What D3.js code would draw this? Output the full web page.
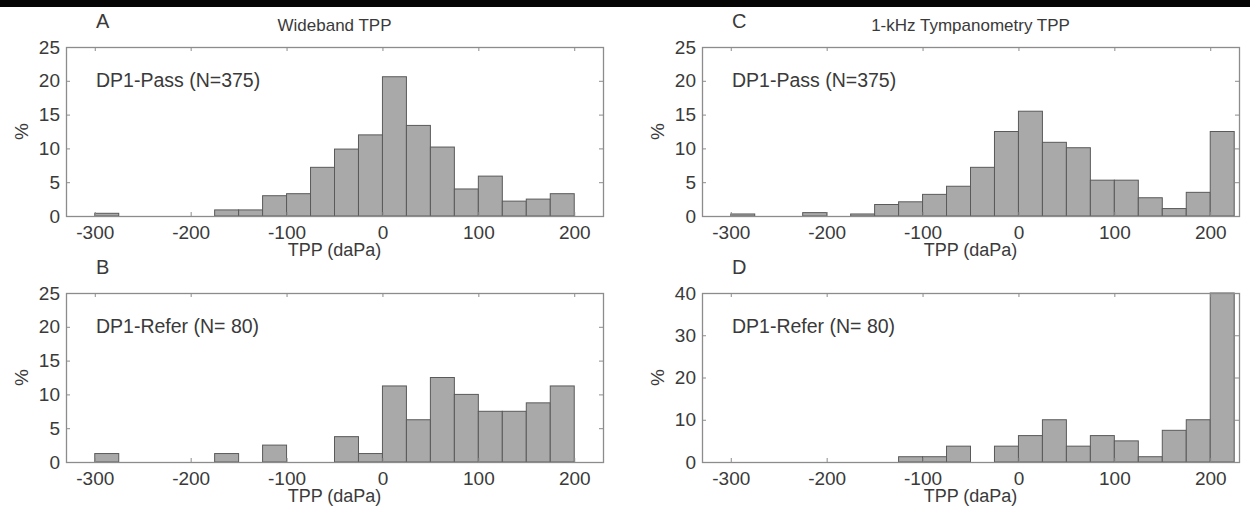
<!DOCTYPE html>
<html>
<head>
<meta charset="utf-8">
<script src="https://cdn.jsdelivr.net/npm/d3@7"></script>
<style>
  html, body { margin: 0; padding: 0; background: #fff; }
  svg { display: block; }
  text { font-family: "Liberation Sans", Arial, sans-serif; fill: #3a3a3a; }
</style>
</head>
<body>
<svg id="fig" width="1250" height="516"></svg>
<script>
// Histogram bin width (daPa); every bin is [start, start + BIN_WIDTH)
const BIN_WIDTH = 25;

// A: wideband TPP, DP1-Pass
const wbPassBins = [-300, -175, -150, -125, -100, -75, -50, -25, 0, 25, 50, 75, 100, 125, 150, 175];
const wbPassPct  = [0.4, 0.9, 0.9, 3.0, 3.3, 7.2, 9.9, 12.0, 20.6, 13.4, 10.2, 4.0, 5.9, 2.2, 2.5, 3.3];

// B: wideband TPP, DP1-Refer
const wbReferBins = [-300, -175, -125, -50, -25, 0, 25, 50, 75, 100, 125, 150, 175];
const wbReferPct  = [1.25, 1.25, 2.5, 3.75, 1.25, 11.25, 6.25, 12.5, 10, 7.5, 7.5, 8.75, 11.25];

// C: 1-kHz tympanometry TPP, DP1-Pass
const tyPassBins = [-300, -225, -175, -150, -125, -100, -75, -50, -25, 0, 25, 50, 75, 100, 125, 150, 175, 200];
const tyPassPct  = [0.3, 0.5, 0.3, 1.7, 2.1, 3.2, 4.4, 7.2, 12.5, 15.5, 10.9, 10.1, 5.3, 5.3, 2.7, 1.1, 3.5, 12.5];

// D: 1-kHz tympanometry TPP, DP1-Refer
const tyReferBins = [-125, -100, -75, -25, 0, 25, 50, 75, 100, 125, 150, 175, 200];
const tyReferPct  = [1.25, 1.25, 3.75, 3.75, 6.25, 10, 3.75, 6.25, 5, 1.25, 7.5, 10, 40];

// Axis ticks
const xTicks = [-300, -200, -100, 0, 100, 200];
const yTicks25 = [0, 5, 10, 15, 20, 25];
const yTicks40 = [0, 10, 20, 30, 40];

// Text
const panelLetters = ["A", "B", "C", "D"];
const columnTitles = ["Wideband TPP", "1-kHz Tympanometry TPP"];
const groupLabels = ["DP1-Pass (N=375)", "DP1-Refer (N= 80)"];
const xLabel = "TPP (daPa)";
const yLabel = "%";

const panels = [
  { letter: panelLetters[0], title: columnTitles[0], group: groupLabels[0], bins: wbPassBins,  pct: wbPassPct,  yMax: 25, yTicks: yTicks25, left: 66,  top: 47 },
  { letter: panelLetters[1], title: null,            group: groupLabels[1], bins: wbReferBins, pct: wbReferPct, yMax: 25, yTicks: yTicks25, left: 66,  top: 293 },
  { letter: panelLetters[2], title: columnTitles[1], group: groupLabels[0], bins: tyPassBins,  pct: tyPassPct,  yMax: 25, yTicks: yTicks25, left: 702, top: 47 },
  { letter: panelLetters[3], title: null,            group: groupLabels[1], bins: tyReferBins, pct: tyReferPct, yMax: 40, yTicks: yTicks40, left: 702, top: 293 }
];

const W = 537, H = 169;
const FONT = 19;
const AXIS_COLOR = "#8c8c8c";
const plainNumber = d => String(d); // hyphen-minus for negative ticks

const svg = d3.select("#fig");

// dark strip along the top edge of the figure
svg.append("rect").attr("x", 0).attr("y", 0).attr("width", 1250).attr("height", 7).attr("fill", "#050505");

panels.forEach(p => {
  const g = svg.append("g").attr("transform", `translate(${p.left},${p.top})`);
  const x = d3.scaleLinear().domain([-330, 230]).range([0, W]);
  const y = d3.scaleLinear().domain([0, p.yMax]).range([H, 0]);

  // bars
  const data = p.bins.map((b, i) => ({ start: b, value: p.pct[i] }));
  g.selectAll("rect.bar").data(data).enter().append("rect")
    .attr("class", "bar")
    .attr("x", d => x(d.start))
    .attr("width", d => x(d.start + BIN_WIDTH) - x(d.start))
    .attr("y", d => y(d.value))
    .attr("height", d => y(0) - y(d.value))
    .attr("fill", "#a9a9a9")
    .attr("stroke", "#5a5a5a")
    .attr("stroke-width", 1);

  // axes with inward ticks on all four sides
  const styleAxis = sel => {
    sel.select(".domain").remove();
    sel.selectAll(".tick line").attr("stroke", AXIS_COLOR);
    sel.selectAll(".tick text").attr("fill", "#3a3a3a").style("font-size", FONT + "px")
      .style("font-family", '"Liberation Sans", Arial, sans-serif');
  };
  g.append("g").attr("transform", `translate(0,${H})`)
    .call(d3.axisBottom(x).tickValues(xTicks).tickFormat(plainNumber).tickSizeInner(-4).tickSizeOuter(0).tickPadding(10))
    .call(styleAxis);
  g.append("g")
    .call(d3.axisTop(x).tickValues(xTicks).tickSizeInner(-4).tickSizeOuter(0).tickFormat(""))
    .call(styleAxis);
  g.append("g")
    .call(d3.axisLeft(y).tickValues(p.yTicks).tickFormat(plainNumber).tickSizeInner(-4).tickSizeOuter(0).tickPadding(6))
    .call(styleAxis);
  g.append("g").attr("transform", `translate(${W},0)`)
    .call(d3.axisRight(y).tickValues(p.yTicks).tickSizeInner(-4).tickSizeOuter(0).tickFormat(""))
    .call(styleAxis);

  // frame
  g.append("rect").attr("x", 0.5).attr("y", 0.5).attr("width", W).attr("height", H)
    .attr("fill", "none").attr("stroke", AXIS_COLOR).attr("stroke-width", 1.3);

  // labels
  g.append("text").attr("x", W / 2).attr("y", H + 40).attr("text-anchor", "middle")
    .style("font-size", "18px").text(xLabel);
  g.append("text").attr("transform", `translate(${-38},${H / 2}) rotate(-90)`)
    .attr("text-anchor", "middle").style("font-size", FONT + "px").text(yLabel);
  g.append("text").attr("x", 30).attr("y", 40).style("font-size", "19.5px").text(p.group);
  g.append("text").attr("x", 30).attr("y", -19).style("font-size", "20px").text(p.letter);
  if (p.title) {
    g.append("text").attr("x", W / 2).attr("y", -16).attr("text-anchor", "middle")
      .style("font-size", "17px").text(p.title);
  }
});
</script>
</body>
</html>
